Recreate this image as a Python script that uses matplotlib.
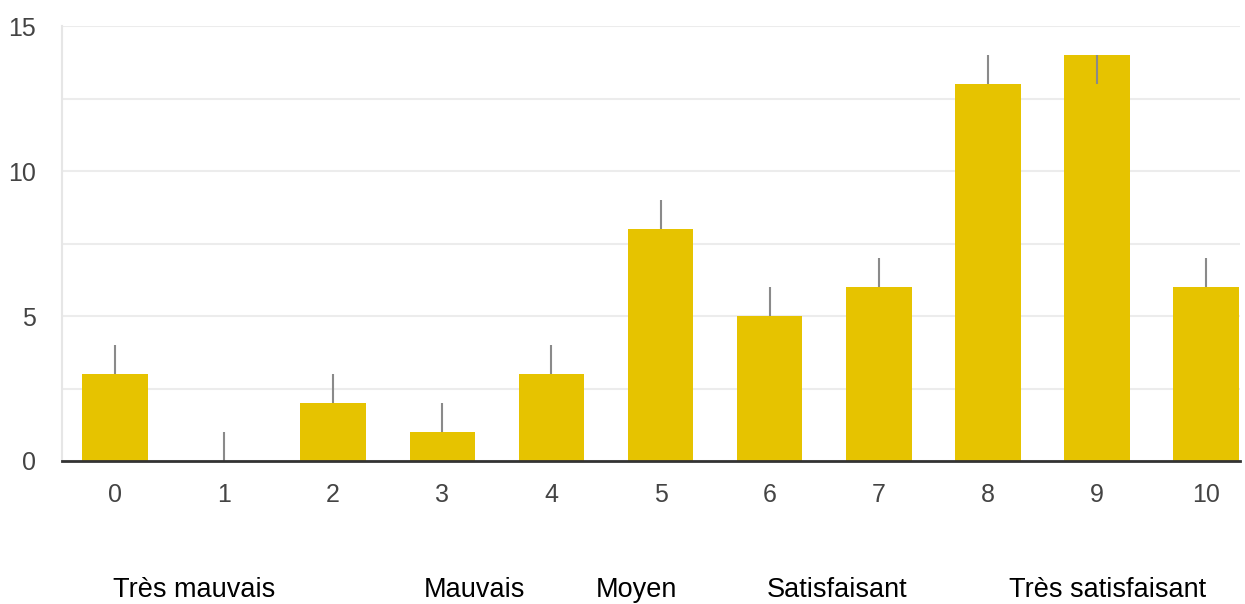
import matplotlib
matplotlib.use("Agg")
import matplotlib.pyplot as plt
import matplotlib.transforms as mtransforms

# ---- data ----
scores = ["0", "1", "2", "3", "4", "5", "6", "7", "8", "9", "10"]
counts = [3, 0, 2, 1, 3, 8, 5, 6, 13, 14, 6]
whisker_low = [3, 0, 2, 1, 3, 8, 5, 6, 13, 13, 6]
whisker_high = [4, 1, 3, 2, 4, 9, 6, 7, 14, 14, 7]
y_ticks = [0, 5, 10, 15]
category_labels = ["Très mauvais", "Mauvais", "Moyen", "Satisfaisant", "Très satisfaisant"]

# ---- layout ----
fig = plt.figure(figsize=(12.45, 6.04), dpi=100)
ax = fig.add_axes([62 / 1245, 143 / 604, (1240 - 62) / 1245, (578 - 143) / 604])

font = ["Liberation Sans", "DejaVu Sans"]

x = list(range(len(scores)))
ax.bar(x, counts, width=0.6, color="#E6C300", zorder=2)
ax.vlines(x, whisker_low, whisker_high, color="#8a8a8a", linewidth=1.5, zorder=3)

ax.set_xlim(-0.485, 10.31)
ax.set_ylim(0, 15)
ax.set_yticks(y_ticks)
ax.set_yticks([2.5, 7.5, 12.5], minor=True)
ax.set_xticks(x)
ax.set_xticklabels(scores)
for lab in ax.get_xticklabels() + ax.get_yticklabels():
    lab.set_fontfamily(font)
    lab.set_fontsize(18)
    lab.set_color("#444444")

ax.grid(axis="y", which="both", color="#ececec", linewidth=1.5, zorder=0)
ax.tick_params(axis="both", which="both", length=0)
ax.tick_params(axis="x", pad=16)
ax.tick_params(axis="y", pad=19)

for side in ["top", "right"]:
    ax.spines[side].set_visible(False)
ax.spines["left"].set_color("#e6e6e6")
ax.spines["left"].set_linewidth(1.5)
ax.spines["bottom"].set_color("#333333")
ax.spines["bottom"].set_linewidth(2)
ax.spines["bottom"].set_zorder(4)

label_x = [0.73, 3.29, 4.78, 6.62, 9.1]
trans = mtransforms.blended_transform_factory(ax.transData, fig.transFigure)
for lx, txt in zip(label_x, category_labels):
    fig.text(lx, 1 - 597 / 604, txt, transform=trans, ha="center", va="baseline",
             fontsize=19.5, family=font, color="black")

fig.savefig("out.png", dpi=100)
